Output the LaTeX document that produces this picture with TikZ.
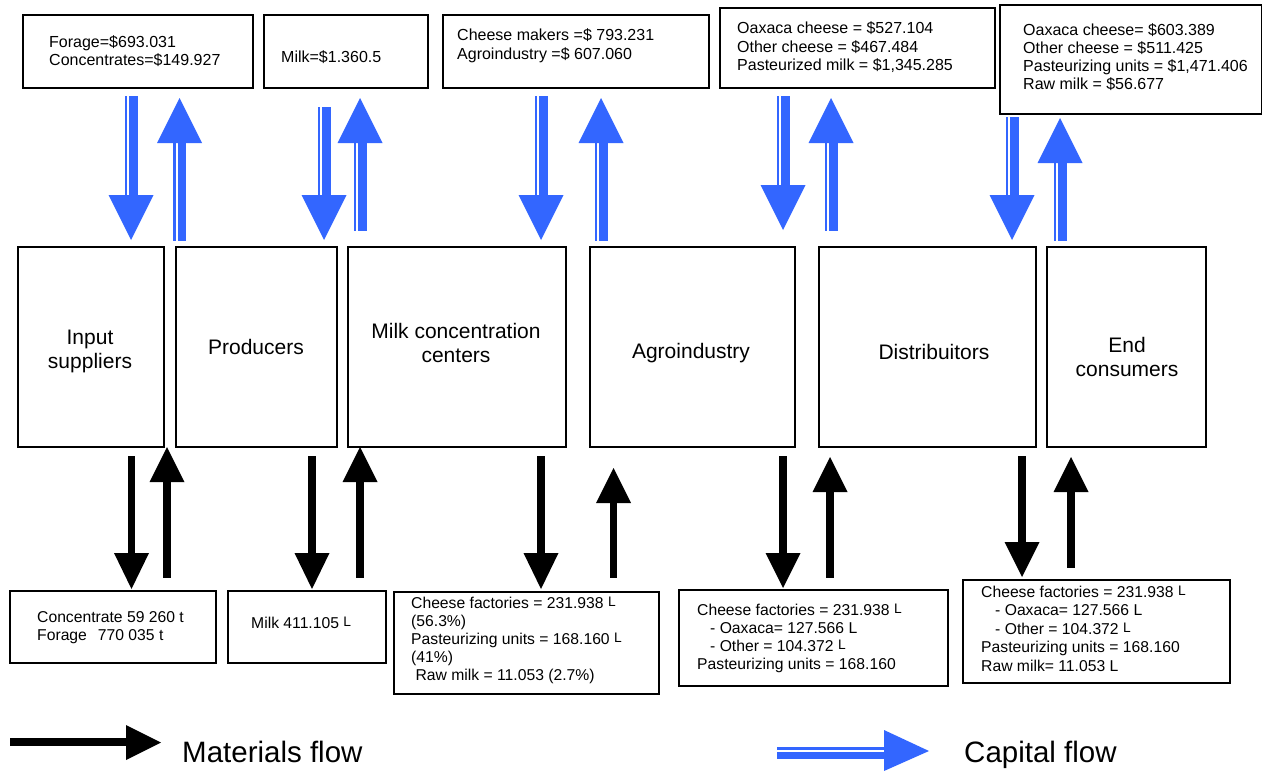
\documentclass[tikz,border=0pt]{standalone}
\usepackage{fontspec}
\setmainfont{Liberation Sans}
\definecolor{capblue}{RGB}{51,102,255}
\tikzset{
  box/.style={draw=black, line width=1.6pt, inner sep=0pt, anchor=north west},
  txt/.style={inner sep=0pt, anchor=base west, font=\fontsize{16}{18}\selectfont},
  txtb/.style={inner sep=0pt, anchor=base west, font=\fontsize{16}{19}\selectfont},
  btxt/.style={inner sep=0pt, anchor=base west, font=\fontsize{15.7}{18}\selectfont},
  btxtb/.style={inner sep=0pt, anchor=base west, font=\fontsize{15.7}{18.5}\selectfont},
  lbl/.style={inner sep=0pt, anchor=base, font=\fontsize{21}{24}\selectfont},
  leg/.style={inner sep=0pt, anchor=base west, font=\fontsize{29.5}{34}\selectfont},
  capfill/.style={fill=capblue},
  matfill/.style={fill=black}
}
\newcommand\bx[5]{\node[box, minimum width={#4-#2}, minimum height={#5-#3}] (#1) at (#2,#3) {};}
\newcommand\Lr{\raisebox{1.8pt}{\fontsize{13.8}{13.8}\selectfont L}}
\newcommand\tl[1]{\begin{tabular}[t]{@{}l@{}}#1\end{tabular}}
\newcommand\tc[1]{\begin{tabular}[t]{@{}c@{}}#1\end{tabular}}
% capital flow arrow: x centre, tail, head base, tip
\newcommand\capar[4]{%
  \fill[capfill] (#1-6.5,#2) rectangle (#1-4,#3);
  \fill[capfill] (#1-2,#2) rectangle (#1+6.5,#3);
  \fill[capfill] (#1-22.5,#3) -- (#1+22.5,#3) -- (#1,#4) -- cycle;}
% materials flow arrow: x centre, tail, head base, tip
\newcommand\matar[4]{%
  \fill[matfill] (#1-3.8,#2) rectangle (#1+3.8,#3);
  \fill[matfill] (#1-17.5,#3) -- (#1+17.5,#3) -- (#1,#4) -- cycle;}
\begin{document}
\begin{tikzpicture}[x=1pt,y=-1pt]
\fill[white] (0,0) rectangle (1262,771);
\useasboundingbox (0,0) rectangle (1262,771);

% top boxes (capital)
\bx{tb1}{22}{14}{252}{87}
\bx{tb2}{263}{14}{427}{87}
\bx{tb3}{442}{14}{708}{87}
\bx{tb4}{719}{7}{994}{87}
\bx{tb5}{999}{4}{1261}{113}
\node[txt] (tb1t) at (49,47) {\tl{Forage=\$693.031\\Concentrates=\$149.927}};
\node[txt] (tb2t) at (281,62) {Milk=\$1.360.5};
\node[txtb] (tb3t) at (457,40) {\tl{Cheese makers =\$ 793.231\\Agroindustry =\$ 607.060}};
\node[txtb] (tb4t) at (737,33) {\tl{Oaxaca cheese = \$527.104\\Other cheese = \$467.484\\Pasteurized milk = \$1,345.285}};
\node[txt] (tb5t) at (1023,35) {\tl{Oaxaca cheese= \$603.389\\Other cheese = \$511.425\\Pasteurizing units = \$1,471.406\\Raw milk = \$56.677}};

% middle boxes (actors)
\bx{m1}{17}{246}{163}{446}
\bx{m2}{175}{246}{336}{446}
\bx{m3}{347}{246}{565}{446}
\bx{m4}{589}{246}{794}{446}
\bx{m5}{818}{246}{1035}{446}
\bx{m6}{1046}{246}{1205}{446}
\node[lbl] (m1t) at (90,344) {\tc{Input\\suppliers}};
\node[lbl] (m2t) at (256,354) {Producers};
\node[lbl] (m3t) at (456,338) {\tc{Milk concentration\\centers}};
\node[lbl] (m4t) at (691,358) {Agroindustry};
\node[lbl] (m5t) at (934,359) {Distribuitors};
\node[lbl] (m6t) at (1127,352) {\tc{End\\consumers}};

% bottom boxes (materials)
\bx{bb1}{9}{590}{215}{662}
\bx{bb2}{227}{590}{385}{662}
\bx{bb3}{393}{591}{658}{693}
\bx{bb4}{678}{589}{947}{685}
\bx{bb5}{962}{579}{1229}{682}
\node[btxt] (bb1t) at (37,622) {\tl{Concentrate 59 260 t\\Forage\hspace{11pt}770 035 t}};
\node[btxt] (bb2t) at (251,628) {Milk 411.105 \Lr};
\node[btxt] (bb3t) at (411,608) {\tl{Cheese factories = 231.938 \Lr\\(56.3\%)\\Pasteurizing units = 168.160 \Lr\\(41\%)\\\hspace{4.4pt}Raw milk = 11.053 (2.7\%)}};
\node[btxt] (bb4t) at (697,615) {\tl{Cheese factories = 231.938 \Lr\\\hspace{13pt}- Oaxaca= 127.566 L\\\hspace{13pt}- Other = 104.372 \Lr\\Pasteurizing units = 168.160}};
\node[btxtb] (bb5t) at (981,597) {\tl{Cheese factories = 231.938 \Lr\\\hspace{14pt}- Oaxaca= 127.566 L\\\hspace{14pt}- Other = 104.372 \Lr\\Pasteurizing units = 168.160\\Raw milk= 11.053 L}};

% capital flow arrows
\capar{131}{96}{195}{240}
\capar{179.5}{241}{143}{98}
\capar{324}{107}{195}{240}
\capar{360}{231}{143}{98}
\capar{541}{96}{195}{240}
\capar{601}{241}{143}{98}
\capar{783}{96}{185}{230}
\capar{831}{231}{143}{98}
\capar{1012}{117}{195}{240}
\capar{1060}{241}{163}{118}

% materials flow arrows
\matar{131.5}{456}{553}{589}
\matar{167}{578}{482}{447}
\matar{312}{456}{553}{589}
\matar{360}{578}{482}{447}
\matar{541}{456}{553}{589}
\matar{613.5}{578}{503}{468}
\matar{783}{456}{553}{588}
\matar{830}{578}{492}{457}
\matar{1022}{456}{542}{577}
\matar{1071}{568}{492}{457}

% legend
\fill[matfill] (10,738) rectangle (126,746);
\fill[matfill] (126,725) -- (126,760) -- (161,742.5) -- cycle;
\node[leg] (legm) at (182,762) {Materials flow};
\fill[capfill] (777,747) rectangle (884,749.5);
\fill[capfill] (777,752) rectangle (884,759);
\fill[capfill] (884,730) -- (884,771) -- (929,751) -- cycle;
\node[leg] (legc) at (964,762) {Capital flow};
\end{tikzpicture}
\end{document}
